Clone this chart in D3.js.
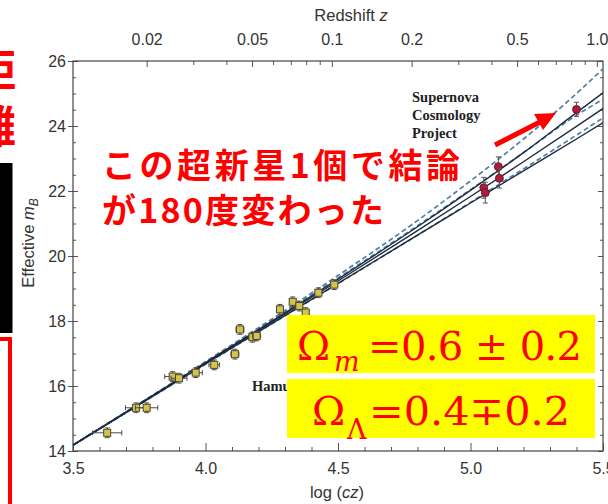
<!DOCTYPE html>
<html>
<head>
<meta charset="utf-8">
<script src="https://cdnjs.cloudflare.com/ajax/libs/d3/7.8.5/d3.min.js"></script>
<style>
  body { margin: 0; background: #fff; }
  svg { display: block; }
  .axis text { font-family: "Liberation Sans", Arial, sans-serif; font-size: 16px; fill: #333; }
  .axis line { stroke: #555; stroke-width: 1; }
</style>
</head>
<body>
<div id="chart"></div>
<script>
var logCz     = [3.5, 4.0, 4.5, 4.8, 5.0, 5.2, 5.4, 5.5];
var dashedTop = [14.18, 16.75, 19.40, 21.09, 22.31, 23.60, 25.00, 25.76];
var solidTop  = [14.18, 16.72, 19.29, 20.90, 22.02, 23.18, 24.41, 25.02];
var dashedMid = [14.18, 16.73, 19.32, 20.93, 22.04, 23.18, 24.33, 24.82];
var solidMid  = [14.18, 16.70, 19.23, 20.78, 21.83, 22.90, 23.99, 24.54];
var dashedBot = [14.18, 16.67, 19.15, 20.64, 21.65, 22.68, 23.72, 24.25];
var solidBot  = [14.18, 16.68, 19.16, 20.64, 21.63, 22.62, 23.60, 24.10];

// Calan/Tololo (Hamuy) low-z supernovae
var hamuyX    = [3.629, 3.738, 3.778, 3.876, 3.900, 3.963, 4.033, 4.111, 4.130, 4.177, 4.193, 4.281, 4.329, 4.354, 4.378, 4.426, 4.486];
var hamuyM    = [14.56, 15.33, 15.33, 16.29, 16.24, 16.41, 16.65, 16.98, 17.74, 17.50, 17.54, 18.36, 18.59, 18.46, 18.26, 18.87, 19.12];
var hamuyXErr = [0.055, 0.040, 0.042, 0.030, 0.030, 0.025, 0.020, 0.015, 0.015, 0.015, 0.015, 0.012, 0.012, 0.012, 0.012, 0.012, 0.010];
var hamuyMErr = [0.15, 0.15, 0.15, 0.15, 0.15, 0.15, 0.15, 0.15, 0.15, 0.15, 0.15, 0.15, 0.15, 0.15, 0.15, 0.15, 0.15];

// Supernova Cosmology Project high-z supernovae
var scpX    = [5.050, 5.056, 5.105, 5.109, 5.400];
var scpM    = [22.10, 21.95, 22.75, 22.39, 24.51];
var scpMErr = [0.32, 0.32, 0.30, 0.30, 0.22];

var xTicks = [3.5, 4.0, 4.5, 5.0, 5.5];
var yTicks = [14, 16, 18, 20, 22, 24, 26];
var zTicks = [0.02, 0.05, 0.1, 0.2, 0.5, 1.0];
var zMinor = [0.03, 0.04, 0.06, 0.07, 0.08, 0.09, 0.3, 0.4, 0.6, 0.7, 0.8, 0.9];

var C = 299792.458;
var margin = { top: 61, left: 73 };
var width = 530, height = 390;

var x = d3.scaleLinear().domain([3.5, 5.5]).range([0, width]);
var y = d3.scaleLinear().domain([14, 26]).range([height, 0]);
var zScale = d3.scaleLog()
  .domain([Math.pow(10, 3.5) / C, Math.pow(10, 5.5) / C])
  .range([0, width]);

var svg = d3.select('#chart').append('svg')
  .attr('width', 608)
  .attr('height', 504);

svg.append('rect').attr('width', 608).attr('height', 504).attr('fill', '#fff');

var g = svg.append('g')
  .attr('transform', 'translate(' + margin.left + ',' + margin.top + ')');

function noDomain(sel) { sel.select('.domain').remove(); }

var xMinor = d3.range(3.6, 5.45, 0.1).filter(function(v) {
  return Math.abs(v * 2 - Math.round(v * 2)) > 0.01;
});
var yMinor = d3.range(14.5, 26, 0.5).filter(function(v) { return v % 2 !== 0; });

// bottom axis
g.append('g').attr('class', 'axis')
  .attr('transform', 'translate(0,' + height + ')')
  .call(d3.axisBottom(x).tickValues(xTicks).tickFormat(d3.format('.1f'))
    .tickSize(-8).tickSizeOuter(0).tickPadding(12))
  .call(noDomain);
g.append('g').attr('class', 'axis')
  .attr('transform', 'translate(0,' + height + ')')
  .call(d3.axisBottom(x).tickValues(xMinor).tickFormat('').tickSize(-4).tickSizeOuter(0))
  .call(noDomain);

// left axis: labels + outward ticks, inward ticks
g.append('g').attr('class', 'axis')
  .call(d3.axisLeft(y).tickValues(yTicks).tickSize(5).tickPadding(2).tickSizeOuter(0))
  .call(noDomain);
g.append('g').attr('class', 'axis')
  .call(d3.axisRight(y).tickValues(yTicks).tickFormat('').tickSize(5).tickSizeOuter(0))
  .call(noDomain);
g.append('g').attr('class', 'axis')
  .call(d3.axisRight(y).tickValues(yMinor).tickFormat('').tickSize(3).tickSizeOuter(0))
  .call(noDomain);

// right axis (ticks only)
g.append('g').attr('class', 'axis')
  .attr('transform', 'translate(' + width + ',0)')
  .call(d3.axisLeft(y).tickValues(yTicks).tickFormat('').tickSize(5).tickSizeOuter(0))
  .call(noDomain);
g.append('g').attr('class', 'axis')
  .attr('transform', 'translate(' + width + ',0)')
  .call(d3.axisLeft(y).tickValues(yMinor).tickFormat('').tickSize(3).tickSizeOuter(0))
  .call(noDomain);

// top axis, redshift
g.append('g').attr('class', 'axis')
  .call(d3.axisTop(zScale).tickValues(zTicks)
    .tickFormat(function(d) { return d === 1 ? '1.0' : String(d); })
    .tickSize(-6).tickSizeOuter(0).tickPadding(16))
  .call(noDomain);
g.append('g').attr('class', 'axis')
  .call(d3.axisTop(zScale).tickValues(zMinor).tickFormat('').tickSize(-4).tickSizeOuter(0))
  .call(noDomain);

// frame
g.append('rect')
  .attr('width', width).attr('height', height)
  .attr('fill', 'none').attr('stroke', '#444').attr('stroke-width', 1.2);

// model curves
g.append('clipPath').attr('id', 'plotclip')
  .append('rect').attr('width', width).attr('height', height);

var line = d3.line()
  .x(function(d) { return x(d[0]); })
  .y(function(d) { return y(d[1]); })
  .curve(d3.curveMonotoneX);

var curves = [
  { vals: dashedTop, dash: true },
  { vals: dashedMid, dash: true },
  { vals: dashedBot, dash: true },
  { vals: solidTop, dash: false },
  { vals: solidMid, dash: false },
  { vals: solidBot, dash: false }
];

g.append('g').attr('clip-path', 'url(#plotclip)')
  .selectAll('path')
  .data(curves)
  .enter()
  .append('path')
  .attr('d', function(c) { return line(logCz.map(function(v, i) { return [v, c.vals[i]]; })); })
  .attr('fill', 'none')
  .attr('stroke', function(c) { return c.dash ? '#4f80a8' : '#1d2a3c'; })
  .attr('stroke-width', function(c) { return c.dash ? 1.7 : 1.4; })
  .attr('stroke-dasharray', function(c) { return c.dash ? '5,3' : null; });

// Hamuy points
var hamuy = hamuyX.map(function(v, i) {
  return { x: v, m: hamuyM[i], xe: hamuyXErr[i], me: hamuyMErr[i] };
});

var hp = g.append('g').selectAll('g').data(hamuy).enter().append('g');
hp.append('line')
  .attr('x1', function(d) { return x(d.x - d.xe); })
  .attr('x2', function(d) { return x(d.x + d.xe); })
  .attr('y1', function(d) { return y(d.m); })
  .attr('y2', function(d) { return y(d.m); })
  .attr('stroke', '#4a4a4a').attr('stroke-width', 1);
hp.append('line')
  .attr('x1', function(d) { return x(d.x); })
  .attr('x2', function(d) { return x(d.x); })
  .attr('y1', function(d) { return y(d.m - d.me); })
  .attr('y2', function(d) { return y(d.m + d.me); })
  .attr('stroke', '#4a4a4a').attr('stroke-width', 1);
// caps
[-1, 1].forEach(function(s) {
  hp.append('line')
    .attr('x1', function(d) { return x(d.x + s * d.xe); })
    .attr('x2', function(d) { return x(d.x + s * d.xe); })
    .attr('y1', function(d) { return y(d.m) - 2.5; })
    .attr('y2', function(d) { return y(d.m) + 2.5; })
    .attr('stroke', '#4a4a4a').attr('stroke-width', 1);
  hp.append('line')
    .attr('x1', function(d) { return x(d.x) - 2.5; })
    .attr('x2', function(d) { return x(d.x) + 2.5; })
    .attr('y1', function(d) { return y(d.m + s * d.me); })
    .attr('y2', function(d) { return y(d.m + s * d.me); })
    .attr('stroke', '#4a4a4a').attr('stroke-width', 1);
});
hp.append('rect')
  .attr('x', function(d) { return x(d.x) - 3.5; })
  .attr('y', function(d) { return y(d.m) - 3.5; })
  .attr('width', 7).attr('height', 7)
  .attr('fill', '#d6c24c').attr('stroke', '#4b4a2c').attr('stroke-width', 1);

// SCP points
var scp = scpX.map(function(v, i) { return { x: v, m: scpM[i], me: scpMErr[i] }; });
var sp = g.append('g').selectAll('g').data(scp).enter().append('g');
sp.append('line')
  .attr('x1', function(d) { return x(d.x); })
  .attr('x2', function(d) { return x(d.x); })
  .attr('y1', function(d) { return y(d.m - d.me); })
  .attr('y2', function(d) { return y(d.m + d.me); })
  .attr('stroke', '#555').attr('stroke-width', 1);
[-1, 1].forEach(function(s) {
  sp.append('line')
    .attr('x1', function(d) { return x(d.x) - 2.5; })
    .attr('x2', function(d) { return x(d.x) + 2.5; })
    .attr('y1', function(d) { return y(d.m + s * d.me); })
    .attr('y2', function(d) { return y(d.m + s * d.me); })
    .attr('stroke', '#555').attr('stroke-width', 1);
});
sp.append('circle')
  .attr('cx', function(d) { return x(d.x); })
  .attr('cy', function(d) { return y(d.m); })
  .attr('r', 4)
  .attr('fill', '#b01a3c').attr('stroke', '#5a1424').attr('stroke-width', 0.8);

// axis titles
var sans = '"Liberation Sans", Arial, sans-serif';
var topTitle = svg.append('text')
  .attr('x', 351).attr('y', 21)
  .attr('text-anchor', 'middle')
  .style('font-family', sans).style('font-size', '16.5px').attr('fill', '#333');
topTitle.append('tspan').text('Redshift ');
topTitle.append('tspan').style('font-style', 'italic').text('z');

var botTitle = svg.append('text')
  .attr('x', 337).attr('y', 498)
  .attr('text-anchor', 'middle')
  .style('font-family', sans).style('font-size', '16.5px').attr('fill', '#333');
botTitle.append('tspan').text('log (');
botTitle.append('tspan').style('font-style', 'italic').text('cz');
botTitle.append('tspan').text(')');

var yl = svg.append('text')
  .attr('transform', 'translate(34,243) rotate(-90)')
  .attr('text-anchor', 'middle')
  .style('font-family', sans).style('font-size', '16.5px').attr('fill', '#333');
yl.append('tspan').text('Effective ');
yl.append('tspan').style('font-style', 'italic').text('m');
yl.append('tspan').attr('dy', 4).style('font-style', 'italic').style('font-size', '12px').text('B');

// in-plot labels
var serif = '"Liberation Serif", "Times New Roman", serif';
svg.selectAll('text.scp')
  .data(['Supernova', 'Cosmology', 'Project'])
  .enter().append('text')
  .attr('class', 'scp')
  .attr('x', 412)
  .attr('y', function(d, i) { return 102 + i * 18; })
  .style('font-family', serif).style('font-weight', 'bold').style('font-size', '14.5px')
  .attr('fill', '#222')
  .text(function(d) { return d; });

svg.append('text')
  .attr('x', 252).attr('y', 391)
  .style('font-family', serif).style('font-weight', 'bold').style('font-size', '14.5px')
  .attr('fill', '#222')
  .text('Hamuy et al.');

// Japanese annotation
var jp = '"Noto Sans CJK JP", "Noto Sans CJK SC", sans-serif';
svg.append('text')
  .attr('x', 102).attr('y', 178)
  .attr('textLength', 358).attr('lengthAdjust', 'spacing')
  .style('font-family', jp).style('font-weight', 'bold').style('font-size', '34px')
  .attr('fill', '#ff0000')
  .text('この超新星1個で結論');
svg.append('text')
  .attr('x', 102).attr('y', 223)
  .attr('textLength', 282).attr('lengthAdjust', 'spacing')
  .style('font-family', jp).style('font-weight', 'bold').style('font-size', '34px')
  .attr('fill', '#ff0000')
  .text('が180度変わった');

// arrow
svg.append('line')
  .attr('x1', 495).attr('y1', 145).attr('x2', 540).attr('y2', 122)
  .attr('stroke', '#ff0000').attr('stroke-width', 5);
svg.append('path')
  .attr('d', 'M556,113 L534,114 L543,130 Z')
  .attr('fill', '#ff0000');

// yellow boxes
svg.append('rect').attr('x', 287).attr('y', 315).attr('width', 308).attr('height', 58).attr('fill', '#ffff00');
svg.append('rect').attr('x', 287).attr('y', 379).attr('width', 308).attr('height', 59).attr('fill', '#ffff00');

var om = '"DejaVu Serif", "Liberation Serif", serif';
svg.append('text').attr('x', 297).attr('y', 360)
  .style('font-family', om).style('font-size', '40px').attr('fill', '#ff0000').text('Ω');
svg.append('text').attr('x', 334).attr('y', 371)
  .style('font-family', om).style('font-style', 'italic').style('font-size', '27px').attr('fill', '#ff0000').text('m');
svg.append('text').attr('x', 368).attr('y', 360)
  .attr('textLength', 214).attr('lengthAdjust', 'spacing')
  .style('font-family', om).style('font-size', '40px').attr('fill', '#ff0000').text('=0.6 ± 0.2');

svg.append('text').attr('x', 312).attr('y', 425)
  .style('font-family', om).style('font-size', '40px').attr('fill', '#ff0000').text('Ω');
svg.append('text').attr('x', 347).attr('y', 439)
  .style('font-family', om).style('font-size', '27px').attr('fill', '#ff0000').text('Λ');
svg.append('text').attr('x', 369).attr('y', 425)
  .attr('textLength', 201).attr('lengthAdjust', 'spacingAndGlyphs')
  .style('font-family', om).style('font-size', '40px').attr('fill', '#ff0000').text('=0.4∓0.2');

// left edge remnants of the slide
svg.append('text').attr('x', 16).attr('y', 87).attr('text-anchor', 'end')
  .style('font-family', jp).style('font-weight', 'bold').style('font-size', '44px')
  .attr('fill', '#ff0000').text('距');
svg.append('text').attr('x', 16).attr('y', 143).attr('text-anchor', 'end')
  .style('font-family', jp).style('font-weight', 'bold').style('font-size', '44px')
  .attr('fill', '#ff0000').text('離');
svg.append('rect').attr('x', 0).attr('y', 163).attr('width', 12.5).attr('height', 170).attr('fill', '#000');
svg.append('rect').attr('x', -10).attr('y', 339).attr('width', 20).attr('height', 200)
  .attr('fill', '#fff').attr('stroke', '#ff0000').attr('stroke-width', 4);
</script>
</body>
</html>
